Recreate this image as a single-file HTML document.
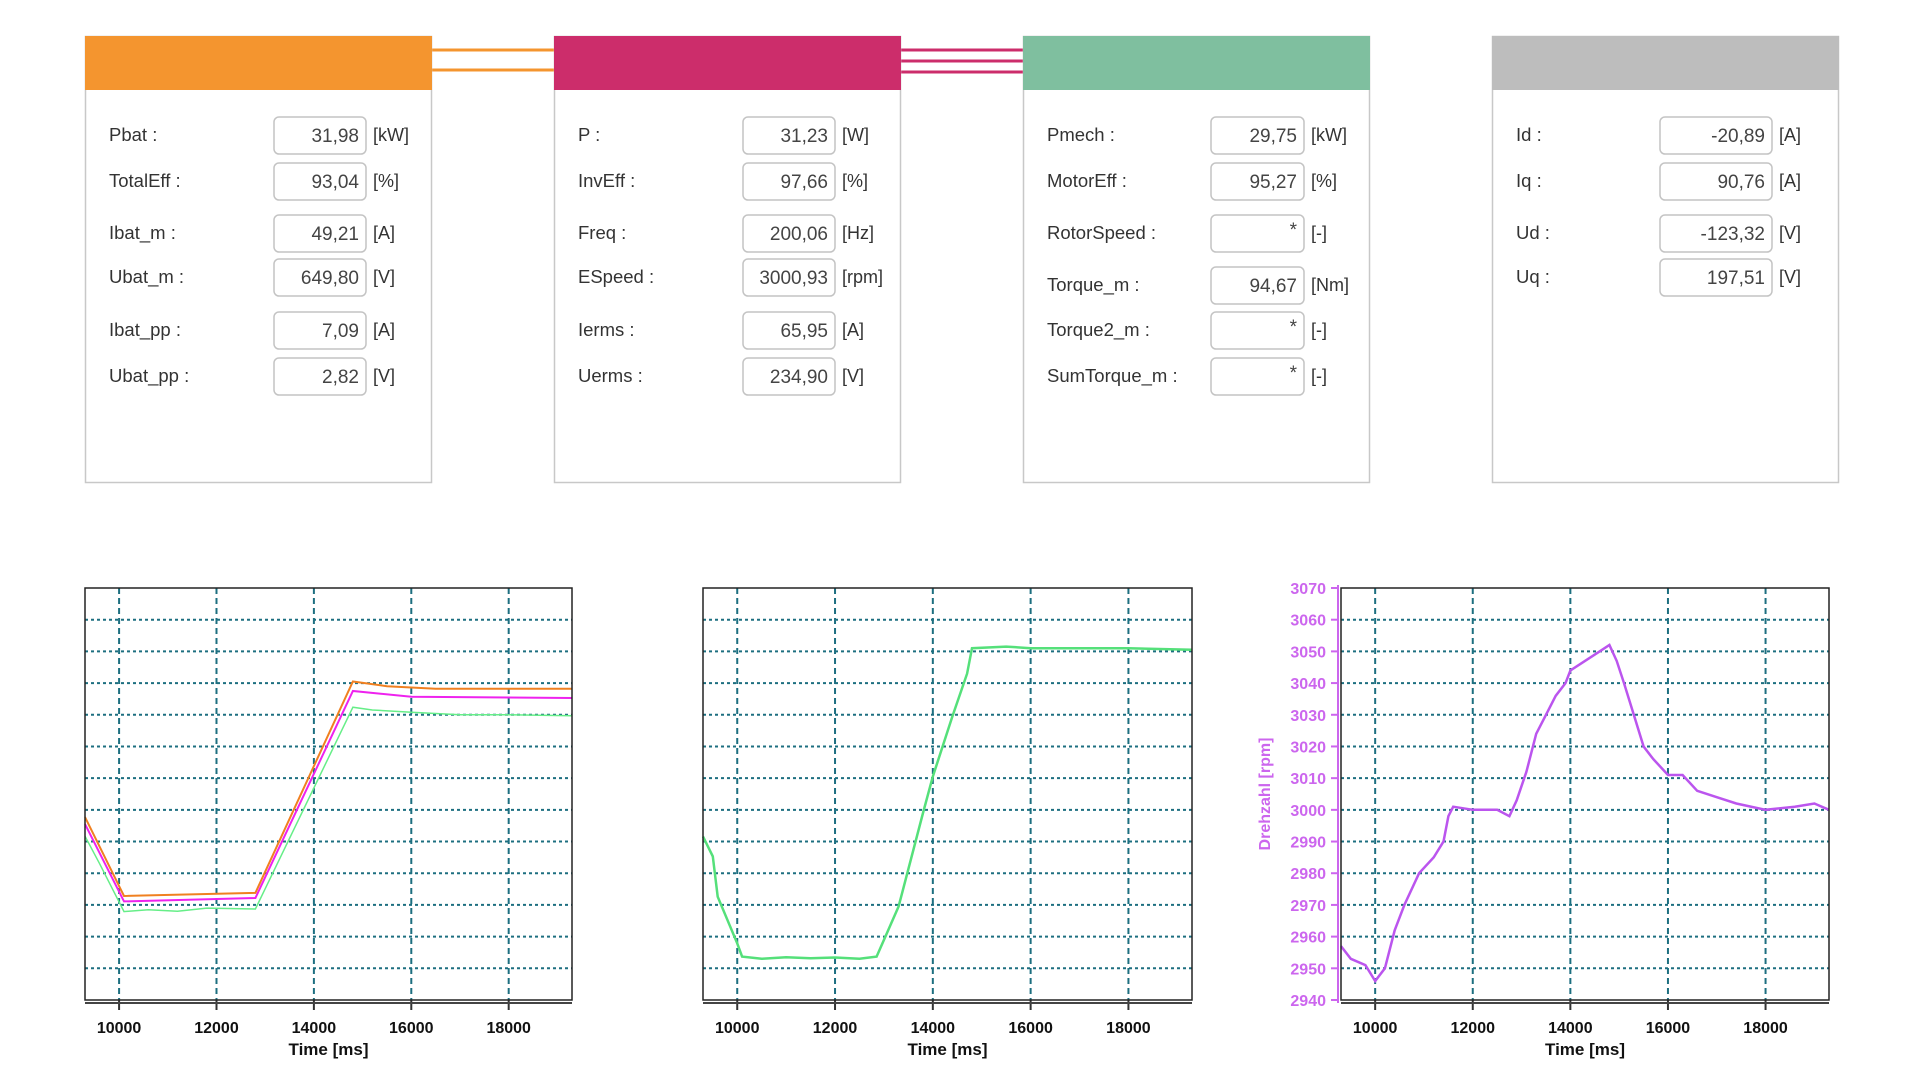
<!DOCTYPE html>
<html><head><meta charset="utf-8"><style>
body{margin:0;background:#fff;}
svg{display:block;font-family:"Liberation Sans",sans-serif;}
</style></head><body>
<svg id="root" width="1920" height="1080" viewBox="0 0 1920 1080">
<g id="panels"></g>
<g id="charts"></g>
</svg>
<script>
const NS="http://www.w3.org/2000/svg";
function mk(tag,attrs,parent,text){const e=document.createElementNS(NS,tag);for(const k in attrs)e.setAttribute(k,attrs[k]);if(text!==undefined)e.textContent=text;parent.appendChild(e);return e;}

// ---- panels ----
const panelColors=["#f4952f","#cc2d6b","#7fbf9f","#bdbdbd"];
const panelX=[85,554,1023,1492];
const panelW=[346,346,346,346];
const p1Labels=["Pbat :","TotalEff :","Ibat_m :","Ubat_m :","Ibat_pp :","Ubat_pp :"];
const p1Values=["31,98","93,04","49,21","649,80","7,09","2,82"];
const p1Units=["[kW]","[%]","[A]","[V]","[A]","[V]"];
const p2Labels=["P :","InvEff :","Freq :","ESpeed :","Ierms :","Uerms :"];
const p2Values=["31,23","97,66","200,06","3000,93","65,95","234,90"];
const p2Units=["[W]","[%]","[Hz]","[rpm]","[A]","[V]"];
const p3Labels=["Pmech :","MotorEff :","RotorSpeed :","Torque_m :","Torque2_m :","SumTorque_m :"];
const p3Values=["29,75","95,27","*","94,67","*","*"];
const p3Units=["[kW]","[%]","[-]","[Nm]","[-]","[-]"];
const p4Labels=["Id :","Iq :","Ud :","Uq :"];
const p4Values=["-20,89","90,76","-123,32","197,51"];
const p4Units=["[A]","[A]","[V]","[V]"];
const rowY=[[135,181,233,277,330,376],[135,181,233,277,330,376],[135,181,233,285,330,376],[135,181,233,277]];
const allL=[p1Labels,p2Labels,p3Labels,p4Labels],allV=[p1Values,p2Values,p3Values,p4Values],allU=[p1Units,p2Units,p3Units,p4Units];
const boxOff=[[189,92],[189,92],[188,93],[168,112]];
const pg=document.getElementById('panels');
[50,70].forEach(y=>{const l=mk('rect',{x:431,y:y-1.5,width:123,height:3,fill:"#f4952f"},pg);});
[50,61,72].forEach(y=>{const l=mk('rect',{x:900,y:y-1.5,width:123,height:3,fill:"#cc2d6b"},pg);});
for(let p=0;p<4;p++){
  const g=mk('g',{},pg);
  
  
  const x=panelX[p],w=panelW[p];
  mk('rect',{x:x+0.5,y:36.5,width:w,height:446,fill:"#fff",stroke:"#c8c8c8","stroke-width":1.5},g);
  const h=mk('rect',{x:x,y:36,width:w+1,height:54,fill:panelColors[p]},g);
  
  
  allL[p].forEach((lab,i)=>{
    const y=rowY[p][i];
    const t=mk('text',{x:x+24,y:y+6,"font-size":18.5,fill:"#333"},g,lab);
    
    
    const bx=x+boxOff[p][0],bw=boxOff[p][1];
    const b=mk('rect',{x:bx,y:y-18,width:bw,height:37,rx:5,fill:"#fff",stroke:"#c4c4c4","stroke-width":1.5},g);
    
    
    const v=mk('text',{x:bx+bw-7,y:allV[p][i]==="*"?y+3:y+7,"font-size":19,fill:"#444","text-anchor":"end"},g,allV[p][i]);
    
    
    const u=mk('text',{x:bx+bw+7,y:y+6,"font-size":18,fill:"#333"},g,allU[p][i]);
    
    
  });
}

// ---- chart data ----
const xTicks=[10000,12000,14000,16000,18000];
const c1OrangeT=[9300,10100,12800,14800,15500,16500,19300];
const c1OrangeV=[5.77,3.28,3.38,10.05,9.9,9.82,9.82];
const c1MagentaT=[9300,10100,12800,14800,16000,19300];
const c1MagentaV=[5.55,3.11,3.22,9.75,9.57,9.53];
const c1GreenT=[9300,9600,10100,10600,11200,11800,12800,14800,15200,16000,17000,18000,19300];
const c1GreenV=[5.17,4.3,2.79,2.85,2.8,2.9,2.87,9.24,9.15,9.08,9.0,9.0,8.97];
const c2GreenT=[9300,9500,9600,10000,10100,10500,11000,11500,12000,12500,12850,13300,13800,14000,14400,14700,14800,15500,16000,17000,18000,19300];
const c2GreenV=[5.16,4.53,3.26,1.79,1.37,1.3,1.35,1.32,1.34,1.3,1.37,2.95,5.9,7.05,8.95,10.3,11.1,11.15,11.1,11.1,11.1,11.05];
const c3T=[9300,9500,9800,10000,10200,10400,10600,10900,11200,11400,11500,11600,12000,12500,12750,12900,13100,13300,13500,13700,13900,14000,14300,14600,14800,14950,15100,15300,15500,15700,16000,16300,16600,17000,17400,18000,18600,19000,19300];
const c3V=[2957,2953,2951,2946,2950,2962,2970,2980,2985,2990,2998,3001,3000,3000,2998,3003,3012,3024,3030,3036,3040,3044,3047,3050,3052,3047,3040,3030,3020,3016,3011,3011,3006,3004,3002,3000,3001,3002,3000];
const c3YTicks=[2940,2950,2960,2970,2980,2990,3000,3010,3020,3030,3040,3050,3060,3070];

const cg=document.getElementById('charts');
const PT=588,PB=1000,XMIN=9300,XMAX=19300;
function chart(name,left,right,ymin,ymax,series,yAxis){
  const g=mk('g',{},cg);
  
  
  const sx=t=>left+(t-XMIN)/(XMAX-XMIN)*(right-left);
  const sy=v=>PB-(v-ymin)/(ymax-ymin)*(PB-PT);
  mk('rect',{x:left,y:PT,width:right-left,height:PB-PT,fill:"#fff"},g);
  for(let k=1;k<13;k++){const v=ymin+k*(ymax-ymin)/13;const l=mk('line',{x1:left,x2:right,y1:sy(v),y2:sy(v),stroke:"#1d6f80","stroke-width":2,"stroke-dasharray":"3,3"},g);}
  xTicks.forEach(t=>{const l=mk('line',{x1:sx(t),x2:sx(t),y1:PT,y2:PB,stroke:"#1d6f80","stroke-width":2,"stroke-dasharray":"6,4"},g);
    mk('line',{x1:sx(t),x2:sx(t),y1:PB,y2:PB+10,stroke:"#333","stroke-width":2},g);
    const tl=mk('text',{x:sx(t),y:1033,"font-size":16,"font-weight":"bold",fill:"#111","text-anchor":"middle"},g,String(t));});
  series.forEach(s=>{
    const d=s.t.map((t,i)=>(i?'L':'M')+sx(t).toFixed(1)+','+sy(s.v[i]).toFixed(1)).join('');
    const p=mk('path',{d:d,fill:"none",stroke:s.c,"stroke-width":s.w||2},g);
    
    
  });
  mk('rect',{x:left,y:PT,width:right-left,height:PB-PT,fill:"none",stroke:"#222","stroke-width":1.5},g);
  mk('line',{x1:left,x2:right,y1:PB+3,y2:PB+3,stroke:"#444","stroke-width":2},g);
  const xt=mk('text',{x:(left+right)/2,y:1055,"font-size":17,"font-weight":"bold",fill:"#111","text-anchor":"middle"},g,"Time [ms]");
  
  
  if(yAxis){
    const pc="#cc66ee";
    mk('line',{x1:left-3,x2:left-3,y1:PT-3,y2:PB+3,stroke:pc,"stroke-width":2},g);
    yAxis.forEach(v=>{mk('line',{x1:left-10,x2:left-3,y1:sy(v),y2:sy(v),stroke:pc,"stroke-width":2},g);
      const tl=mk('text',{x:left-15,y:sy(v)+6,"font-size":16,"font-weight":"bold",fill:pc,"text-anchor":"end"},g,String(v));});
    const yt=mk('text',{x:0,y:0,"font-size":16,"font-weight":"bold",fill:pc,"text-anchor":"middle",transform:`translate(1270,${(PT+PB)/2}) rotate(-90)`},g,"Drehzahl [rpm]");
    
    
  }
}
chart('chart-battery',85,572,0,13,[
  {t:c1GreenT,v:c1GreenV,c:"#66ee88",n:'series-green',w:1.5},
  {t:c1OrangeT,v:c1OrangeV,c:"#f08020",n:'series-orange'},
  {t:c1MagentaT,v:c1MagentaV,c:"#ee22ee",n:'series-magenta'}],null);
chart('chart-torque',703,1192,0,13,[{t:c2GreenT,v:c2GreenV,c:"#55e07a",n:'series-green',w:2.5}],null);
chart('chart-speed',1341,1829,2940,3070,[{t:c3T,v:c3V,c:"#bb55ee",n:'series-speed',w:2.5}],c3YTicks);
</script>
</body></html>
